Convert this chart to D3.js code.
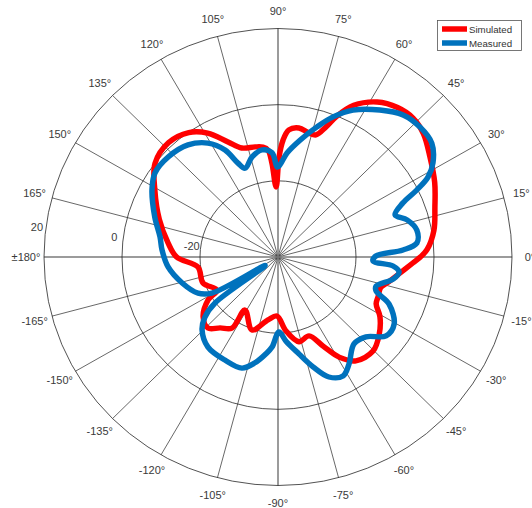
<!DOCTYPE html>
<html>
<head>
<meta charset="utf-8">
<script src="https://cdn.jsdelivr.net/npm/d3@7/dist/d3.min.js"></script>
<style>
  html, body { margin: 0; padding: 0; background: #fff; }
  svg { display: block; font-family: "Liberation Sans", Arial, sans-serif; }
</style>
</head>
<body>
<svg id="chart" width="532" height="508"></svg>
<script>
// Radiation pattern (dB) versus azimuth angle (degrees, counter-clockwise from 0°)
const simAngles = [0, 3, 10, 18, 26, 34, 41, 46.5, 52, 58, 64, 68, 70.2, 73.1, 76.3, 81, 85.2, 87.6, 89.4, 91.5, 93.6, 95.2, 97.6, 101.5, 108, 113, 119, 125, 133, 142, 151, 162, 172.6, 180, 187.3, 199.5, 209, 212.2, 219.3, 226.1, 231.4, 237.7, 238.7, 250.8, 261.2, 269, 276, 283.6, 291, 296.3, 300.8, 306.2, 314.6, 321.8, 329, 334, 338, 343, 346.3, 351.8, 357.4];
const simValues = [-3.5, -1.7, 0.6, 2.3, 4.7, 7.0, 9.4, 10.3, 9.8, 8.0, 4.3, -0.3, -3.7, -6.5, -6.5, -5.7, -6.5, -9.3, -13.7, -21.6, -15.3, -11.8, -10.9, -10.5, -9.9, -7.2, -2.8, -0.1, 1.1, 0.0, -3.9, -8.0, -11.6, -14.0, -19.3, -19.6, -22.1, -18.8, -15.2, -14.1, -16.2, -17.9, -23.7, -19.7, -23.3, -24.5, -20.5, -17.1, -17.8, -13.9, -9.4, -6.2, -5.3, -7.0, -9.5, -12.0, -12.3, -12.5, -11.2, -8.7, -5.4];

const measAngles = [0.6, 3.3, 5.9, 11.2, 16.4, 20.2, 23.9, 26.3, 28.6, 31.9, 37.2, 43.1, 49.3, 55.9, 63.5, 69, 73.7, 79.6, 85.2, 88.8, 90.5, 93.2, 98.3, 104.2, 109.9, 112.6, 115.8, 121, 128.1, 137, 145, 151.4, 161.6, 170.1, 176.4, 185.3, 195.5, 204.8, 209.2, 214.2, 216.8, 220.1, 224.5, 232.8, 243.3, 252.4, 258, 263.1, 266.3, 270.7, 275.3, 281.9, 287.3, 292.5, 298.1, 302.9, 310.5, 317.1, 323.2, 329.4, 336.6, 340.4, 343.1, 348.9, 352.7, 355.4, 357.5];
const measValues = [-14.9, -7.9, -4.2, -3.7, -5.5, -8.0, -5.0, -0.3, 3.8, 6.8, 9.5, 9.9, 9.2, 6.6, 3.1, -0.6, -4.4, -8.8, -12.6, -15.8, -16.4, -12.6, -11.6, -12.9, -15.2, -13.3, -8.8, -5.1, -2.6, -1.5, -1.5, -3.2, -6.7, -9.3, -10.2, -11.7, -14.5, -17.4, -20.6, -36.0, -19.8, -15.5, -12.7, -10.3, -9.7, -9.4, -11.6, -14.4, -16.3, -20.3, -17.8, -14.0, -9.8, -5.9, -4.6, -6.5, -10.0, -9.2, -5.4, -5.4, -9.0, -13.3, -13.7, -9.9, -8.7, -10.4, -15.6];

const seriesNames = ["Simulated", "Measured"];
const seriesColors = ["#ff0000", "#0072bd"];

const angleTicks = d3.range(0, 360, 15);
const angleTickLabels = ["0°", "15°", "30°", "45°", "60°", "75°", "90°", "105°", "120°", "135°", "150°", "165°",
                         "±180°", "-165°", "-150°", "-135°", "-120°", "-105°", "-90°", "-75°", "-60°", "-45°", "-30°", "-15°"];
const ringTicks = [-20, 0, 20];
const ringTickLabels = ["-20", "0", "20"];
const rDomain = [-40, 20];

// Layout
const cx = 278, cy = 257;
const outerR = 234;
const yAspect = 0.9765;      // polar axes are very slightly flattened vertically
const labelR = 252;
const ringLabelAngle = 172.7;

const svg = d3.select("#chart");
const r = d3.scaleLinear().domain(rDomain).range([0, outerR]);
const toRad = d => d * Math.PI / 180;

// Screen position for (angle in degrees ccw from east, radius px)
const px = (a, rr) => cx + rr * Math.cos(toRad(a));
const py = (a, rr) => cy - rr * yAspect * Math.sin(toRad(a));

const plot = svg.append("g")
  .attr("transform", `translate(${cx},${cy}) scale(1,${yAspect})`);

// Spokes
plot.append("g").selectAll("line")
  .data(angleTicks.filter(a => a % 90 !== 0))
  .join("line")
  .attr("x1", 0).attr("y1", 0)
  .attr("x2", a => outerR * Math.cos(toRad(a)))
  .attr("y2", a => -outerR * Math.sin(toRad(a)))
  .attr("stroke", "#262626").attr("stroke-width", 0.7)
  .attr("vector-effect", "non-scaling-stroke");

// Axis lines through 0/180 and 90/270
plot.append("g").selectAll("line")
  .data([0, 90])
  .join("line")
  .attr("x1", a => -outerR * Math.cos(toRad(a)))
  .attr("y1", a => outerR * Math.sin(toRad(a)))
  .attr("x2", a => outerR * Math.cos(toRad(a)))
  .attr("y2", a => -outerR * Math.sin(toRad(a)))
  .attr("stroke", "#7a7a7a").attr("stroke-width", 1.5)
  .attr("vector-effect", "non-scaling-stroke");

// Rings
plot.append("g").selectAll("circle")
  .data(ringTicks)
  .join("circle")
  .attr("r", d => r(d))
  .attr("fill", "none")
  .attr("stroke", "#262626").attr("stroke-width", 0.8)
  .attr("vector-effect", "non-scaling-stroke");

// Pattern curves
const line = d3.lineRadial()
  .angle(d => toRad(90 - d[0]))
  .radius(d => r(d[1]))
  .curve(d3.curveCatmullRomClosed.alpha(0.5));

const series = [
  d3.zip(simAngles, simValues),
  d3.zip(measAngles, measValues)
];

plot.append("g").selectAll("path")
  .data(series)
  .join("path")
  .attr("d", line)
  .attr("fill", "none")
  .attr("stroke", (d, i) => seriesColors[i])
  .attr("stroke-width", 5.5)
  .attr("stroke-linejoin", "round");

// Angle labels
svg.append("g").selectAll("text")
  .data(angleTicks)
  .join("text")
  .attr("x", a => px(a, labelR))
  .attr("y", a => py(a, labelR))
  .attr("text-anchor", "middle")
  .attr("dominant-baseline", "central")
  .attr("font-size", 11)
  .attr("fill", "#3a3a3a")
  .text((a, i) => angleTickLabels[i]);

// Ring labels
svg.append("g").selectAll("text")
  .data(ringTicks)
  .join("text")
  .attr("x", d => px(ringLabelAngle, r(d) + 9))
  .attr("y", d => py(ringLabelAngle, r(d) + 9))
  .attr("text-anchor", "middle")
  .attr("dominant-baseline", "central")
  .attr("font-size", 11)
  .attr("fill", "#3a3a3a")
  .text((d, i) => ringTickLabels[i]);

// Legend
const legend = svg.append("g").attr("transform", "translate(437,20)");
legend.append("rect")
  .attr("x", 0.5).attr("y", 0.5)
  .attr("width", 84).attr("height", 30)
  .attr("fill", "#fff")
  .attr("stroke", "#555").attr("stroke-width", 0.8);
const items = legend.selectAll("g.item")
  .data(seriesNames)
  .join("g").attr("class", "item")
  .attr("transform", (d, i) => `translate(0,${9 + i * 14})`);
items.append("line")
  .attr("x1", 5).attr("x2", 30)
  .attr("y1", 0).attr("y2", 0)
  .attr("stroke", (d, i) => seriesColors[i])
  .attr("stroke-width", 5.5);
items.append("text")
  .attr("x", 32).attr("y", 0)
  .attr("dominant-baseline", "central")
  .attr("font-size", 9.7)
  .attr("fill", "#333")
  .text(d => d);
</script>
</body>
</html>
